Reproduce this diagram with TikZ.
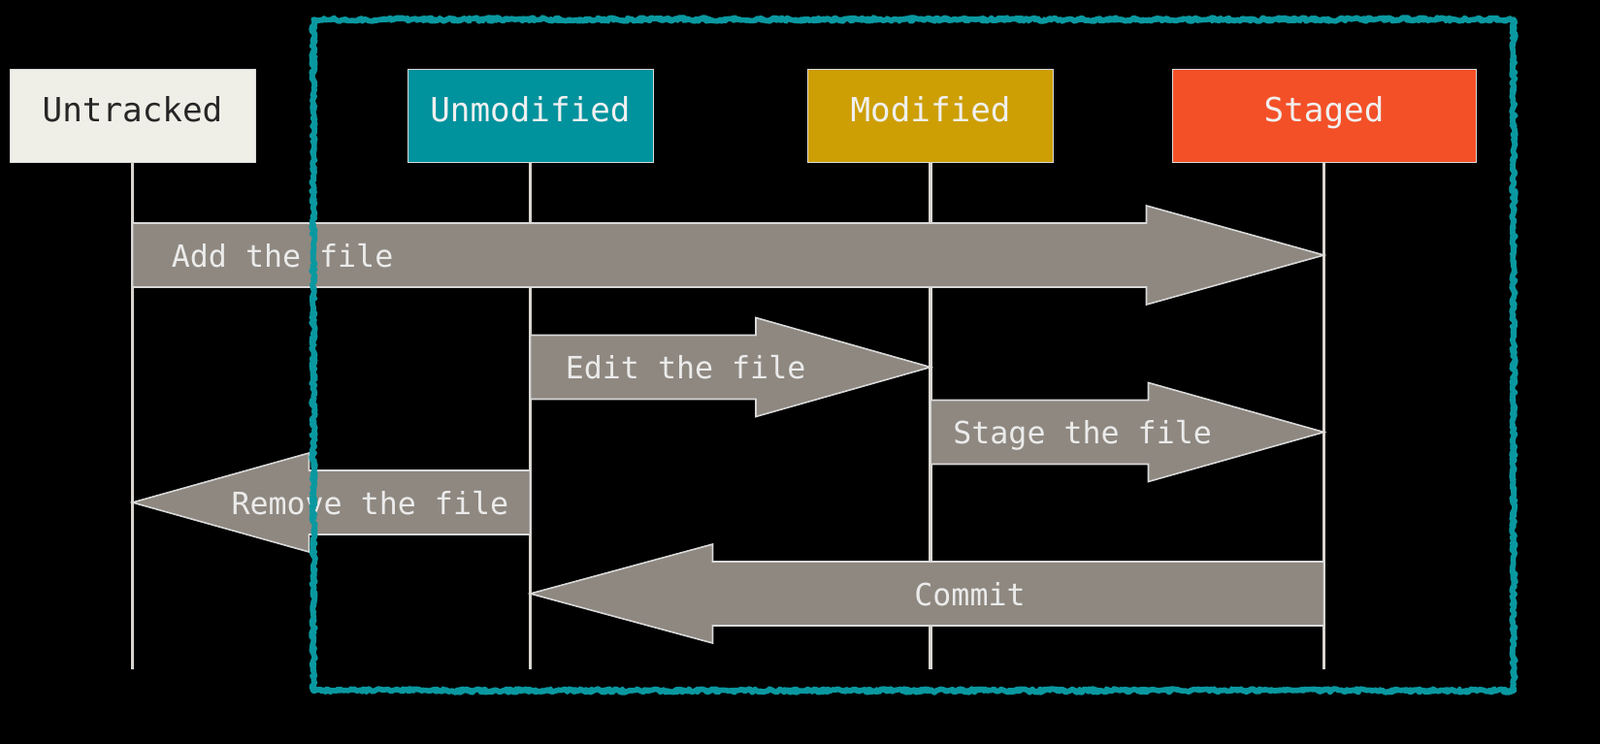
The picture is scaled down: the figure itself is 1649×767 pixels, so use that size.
\documentclass[tikz,border=0pt]{standalone}
\usepackage{fontspec}
\usetikzlibrary{calc,decorations.pathmorphing}
\newfontfamily\gitmono{DejaVu Sans Mono}
\definecolor{gitcream}{RGB}{239,238,231}
\definecolor{gitteal}{RGB}{0,146,157}
\definecolor{gitgold}{RGB}{205,159,5}
\definecolor{gitred}{RGB}{243,80,40}
\definecolor{flowgray}{RGB}{142,136,128}
\definecolor{lifegray}{RGB}{216,213,207}
\definecolor{frameteal}{RGB}{10,152,160}

% fat arrow: from, tip, signed head length
\newcommand{\fatarrow}[3]{%
  \draw[flow] ($(#1)+(0,-33)$) -- ($(#2)+(#3,-33)$) -- ($(#2)+(#3,-51)$) -- (#2)
    -- ($(#2)+(#3,51)$) -- ($(#2)+(#3,33)$) -- ($(#1)+(0,33)$) -- cycle;}

\begin{document}
\begin{tikzpicture}[x=0.02cm, y=-0.02cm,
    state/.style={rectangle, draw=white!85!black, line width=0.5pt, minimum width=5.06cm, minimum height=1.92cm, text height=0.74em, text depth=0pt, font=\gitmono\fontsize{19.5}{22}\selectfont, text=white!94!black},
    life/.style={draw=lifegray, line width=2.1pt},
    flow/.style={fill=flowgray, draw=white!85!black, line width=0.9pt},
    flowlabel/.style={font=\gitmono\fontsize{18}{21}\selectfont, text=white!92!black, inner sep=0pt},
    frame/.style={draw=frameteal, line width=3.2pt, line join=round, line cap=round, decorate, decoration={random steps, segment length=1.5pt, amplitude=1.1pt}}]

    \fill[black] (0,0) rectangle (1649,767);
    \useasboundingbox (0,0) rectangle (1649,767);

    % states
    \node[state, fill=gitcream, text=black!85] (untracked) at (136.5,119) {Untracked};
    \node[state, fill=gitteal] (unmodified) at (546.5,119) {Unmodified};
    \node[state, fill=gitgold] (modified) at (959,119) {Modified};
    \node[state, fill=gitred, minimum width=6.26cm] (staged) at (1364.5,119) {Staged};

    % lifelines
    \foreach \s in {untracked, unmodified, modified, staged} {
        \coordinate (\s end) at (\s.south |- 0,690);
        \draw[life] (\s.south) -- (\s end);
    }

    % transitions
    \coordinate (add from) at (untracked.south |- 0,263);
    \coordinate (add to) at (staged.south |- 0,263);
    \fatarrow{add from}{add to}{-183}
    \node[flowlabel, anchor=base west] (add label) at ($(add from)+(40,12)$) {Add the file};

    \coordinate (edit from) at (unmodified.south |- 0,378.5);
    \coordinate (edit to) at (modified.south |- 0,378.5);
    \fatarrow{edit from}{edit to}{-180}
    \node[flowlabel, anchor=base west] (edit label) at ($(edit from)+(36,12)$) {Edit the file};

    \coordinate (stage from) at (modified.south |- 0,445.5);
    \coordinate (stage to) at (staged.south |- 0,445.5);
    \fatarrow{stage from}{stage to}{-181}
    \node[flowlabel, anchor=base west] (stage label) at ($(stage from)+(23,12)$) {Stage the file};

    \coordinate (remove from) at (unmodified.south |- 0,518);
    \coordinate (remove to) at (untracked.south |- 0,518);
    \fatarrow{remove from}{remove to}{182}
    \node[flowlabel, anchor=base east] (remove label) at ($(remove from)+(-22,12)$) {Remove the file};

    \coordinate (commit from) at (staged.south |- 0,612);
    \coordinate (commit to) at (unmodified.south |- 0,612);
    \fatarrow{commit from}{commit to}{188}
    \node[flowlabel, anchor=base] (commit label) at ($(commit from)+(-365,12)$) {Commit};

    % tracked area
    \draw[frame] (323,20) rectangle (1560,712);
    \draw[frame, line width=2pt] (324,21) rectangle (1559,711);
\end{tikzpicture}
\end{document}
